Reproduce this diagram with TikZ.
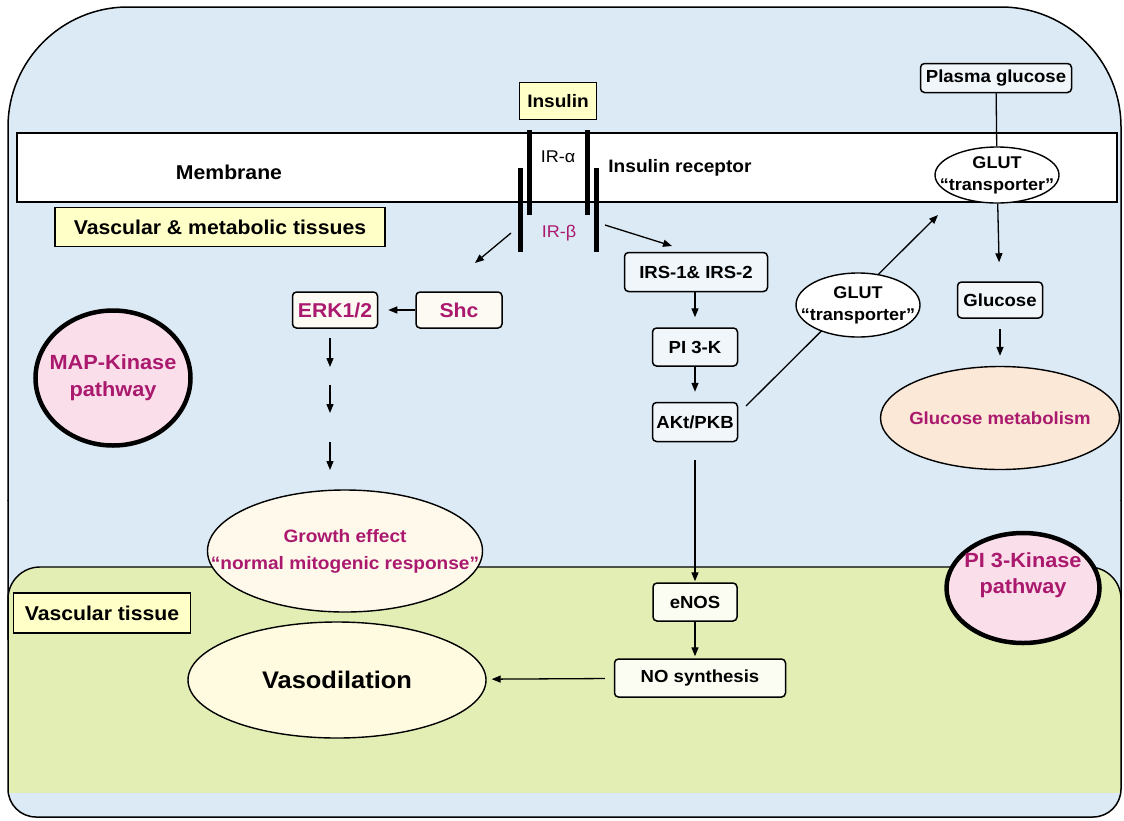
\documentclass[tikz,border=0pt]{standalone}
\usepackage{fontspec}
\setmainfont{Liberation Sans}[FakeStretch=1.06]
\usetikzlibrary{arrows.meta,shapes.geometric}
\definecolor{bgblue}{RGB}{219,234,244}
\definecolor{greenbg}{RGB}{226,238,180}
\definecolor{labelyellow}{RGB}{255,255,200}
\definecolor{magtext}{RGB}{170,25,110}
\definecolor{pinkfill}{RGB}{250,222,233}
\definecolor{vasofill}{RGB}{255,251,224}
\definecolor{growthfill}{RGB}{255,249,236}
\definecolor{metfill}{RGB}{251,232,214}
\definecolor{boxblue}{RGB}{240,246,250}
\definecolor{boxcream}{RGB}{253,249,243}
\definecolor{boxgreen}{RGB}{252,253,242}
\newcommand{\fsz}[1]{\fontsize{#1}{#1}\selectfont}
\begin{document}
\begin{tikzpicture}[x=1pt,y=-1pt,
  box/.style={draw, line width=1.5pt, rounded corners=4pt, fill=boxblue,
    inner sep=0pt, font=\bfseries\fsz{17.5}},
  tag/.style={draw, line width=1.5pt, fill=labelyellow, inner sep=0pt},
  oval/.style={draw, ellipse, line width=1.4pt, inner xsep=-45pt, inner ysep=-20pt, align=center},
  pathway/.style={draw, ellipse, line width=4.5pt, fill=pinkfill, inner xsep=-45pt,
    inner ysep=-20pt, align=center, text=magtext, font=\bfseries\fsz{20.5}},
  pathtext/.style={align=center, text=magtext, font=\bfseries\fsz{20.5}, inner sep=0pt},
  ln/.style={line width=1.3pt},
  arr/.style={line width=1.3pt, -{Triangle[length=9pt,width=7pt]}},
  bar/.style={line width=5pt}]
\useasboundingbox (0,0) rectangle (1124,820);

% outer frame: large top corners, small bottom corners
\begin{scope}
  \clip (0,0) rectangle (1124,500);
  \fill[bgblue, rounded corners=120] (8,7) rectangle (1121,900);
\end{scope}
\begin{scope}
  \clip (0,500) rectangle (1124,820);
  \fill[bgblue, rounded corners=28] (8,-100) rectangle (1121,817);
\end{scope}

% vascular tissue region
\begin{scope}
  \clip (0,0) rectangle (1124,792);
  \fill[greenbg, rounded corners=32] (8,567) rectangle (1121,900);
\end{scope}
\draw[line width=1.4pt, rounded corners=32] (8,640) -- (8,567) -- (1121,567) -- (1121,640);

% frame outline
\begin{scope}
  \clip (0,0) rectangle (1124,500);
  \draw[line width=1.5pt, rounded corners=120] (8,7) rectangle (1121,900);
\end{scope}
\begin{scope}
  \clip (0,500) rectangle (1124,820);
  \draw[line width=1.5pt, rounded corners=28] (8,-100) rectangle (1121,817);
\end{scope}

% membrane band
\draw[line width=1.6pt, fill=white] (17,133) rectangle (1117,202);
\node[font=\bfseries\fsz{20}] (membrane) at (229,172) {Membrane};
\node[font=\bfseries\fsz{18}] (receptor) at (680,168) {Insulin receptor};

% insulin receptor subunits
\draw[bar] (529,130) -- (529,215);
\draw[bar] (587,130) -- (587,215);
\draw[bar] (520,168) -- (520,252);
\draw[bar] (596,168) -- (596,252);
\node[font=\fsz{17}] (iralpha) at (558,157) {IR-α};
\node[font=\fsz{17}, text=magtext] (irbeta) at (559,233) {IR-β};

% labels
\node[tag, minimum width=77pt, minimum height=37pt, font=\bfseries\fsz{18}] (insulin) at (558,101) {Insulin};
\node[tag, minimum width=330pt, minimum height=39pt, font=\bfseries\fsz{20}] (vmt) at (220,227) {Vascular \& metabolic tissues};
\node[tag, minimum width=177pt, minimum height=40pt, font=\bfseries\fsz{20}] (vt) at (102,613) {Vascular tissue};

% glucose uptake branch
\node[box, minimum width=151pt, minimum height=29pt] (plasma) at (996,78) {Plasma glucose};
\node[oval, fill=white, minimum width=124pt, minimum height=56pt, font=\bfseries\fsz{17}] (glut1) at (997,175) {GLUT\\[5pt]“transporter”};
\node[box, minimum width=85pt, minimum height=36pt] (glucose) at (1000,300) {Glucose};
\node[oval, fill=metfill, minimum width=239pt, minimum height=103pt, text=magtext, font=\bfseries\fsz{17.5}] (glucmet) at (1000,418) {Glucose metabolism};

% PI 3-kinase branch
\node[box, minimum width=143pt, minimum height=39pt] (irs) at (696,272) {IRS-1\& IRS-2};
\node[box, minimum width=85pt, minimum height=38pt] (pi3k) at (695,347) {PI 3-K};
\node[box, minimum width=85pt, minimum height=39pt] (akt) at (695,422) {AKt/PKB};
\node[box, fill=boxgreen, minimum width=84pt, minimum height=38pt] (enos) at (695,602) {eNOS};
\node[box, fill=boxgreen, minimum width=171pt, minimum height=38pt] (nosyn) at (700,678) {NO synthesis};

% MAP-kinase branch
\node[box, fill=boxcream, minimum width=85pt, minimum height=36pt, text=magtext, font=\bfseries\fsz{20}] (erk) at (335,310) {ERK1/2};
\node[box, fill=boxcream, minimum width=86pt, minimum height=36pt, text=magtext, font=\bfseries\fsz{20}] (shc) at (459,310) {Shc};

% connectors
\coordinate (rbLa) at (511,233);
\coordinate (rbLb) at (475,263);
\coordinate (rbRa) at (605,225);
\coordinate (rbRb) at (672,246);
\draw[arr] (rbLa) -- (rbLb);
\draw[arr] (rbRa) -- (rbRb);

\draw[ln] (plasma) -- (glut1);
\draw[arr, shorten >=19pt] (glut1) -- (glucose);
\draw[arr, shorten <=10pt, shorten >=10pt] (glucose) -- (glucmet);

\draw[arr, shorten >=10pt] (irs.south -| pi3k) -- (pi3k);
\draw[arr, shorten >=10pt] (pi3k) -- (akt);
\draw[arr, shorten <=18pt, shorten >=1pt] (akt) -- (enos);
\draw[arr, shorten >=2pt] (enos) -- (nosyn.north -| enos);

\coordinate (aktout) at (746,406);
\coordinate (glutin) at (938,215);
\draw[arr] (aktout) -- (glutin);
\node[oval, fill=white, minimum width=124pt, minimum height=64pt, font=\bfseries\fsz{17}] (glut2) at (858,305) {GLUT\\[5pt]“transporter”};

\draw[arr, shorten >=10pt] (shc) -- (erk);
\coordinate (ea1) at (330,338); \coordinate (eb1) at (330,367);
\coordinate (ea2) at (330,385); \coordinate (eb2) at (330,413);
\coordinate (ea3) at (330,442); \coordinate (eb3) at (330,470);
\draw[arr] (ea1) -- (eb1);
\draw[arr] (ea2) -- (eb2);
\draw[arr] (ea3) -- (eb3);

\node[oval, fill=growthfill, minimum width=275pt, minimum height=122pt, text=magtext, font=\bfseries\fsz{18}] (growth) at (345,551) {Growth effect\\[9pt]“normal mitogenic response”};
\node[oval, fill=vasofill, minimum width=298pt, minimum height=116pt, font=\bfseries\fsz{24}] (vaso) at (337,680) {Vasodilation};
\draw[arr, shorten <=9pt, shorten >=5pt] (nosyn) -- (vaso);

% pathway badges
\node[pathway, minimum width=155pt, minimum height=135pt] (mapk) at (113,378) {MAP-Kinase\\[6.5pt]pathway};
\node[pathway, minimum width=153pt, minimum height=110pt] (pi3kpath) at (1023,588) {};
\node[pathtext] (pi3ktext) at (1023,575) {PI 3-Kinase\\[5.5pt]pathway};
\end{tikzpicture}
\end{document}
